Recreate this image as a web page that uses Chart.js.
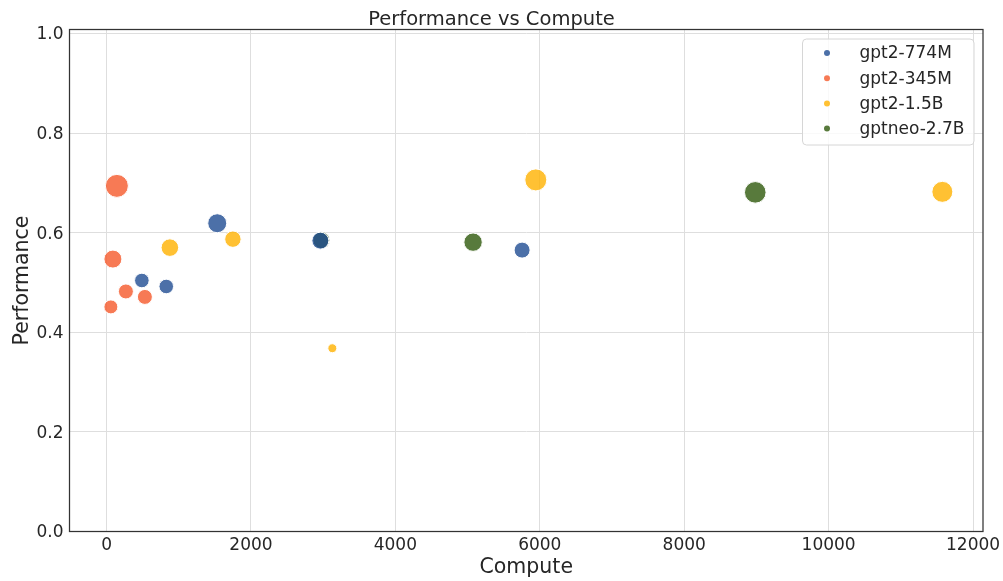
<!DOCTYPE html>
<html><head><meta charset="utf-8">
<script src="https://cdn.jsdelivr.net/npm/chart.js@4.4.0/dist/chart.umd.min.js"></script>
<style>html,body{margin:0;padding:0;background:#fff;}#wrap{width:1003px;height:581px;}</style>
</head><body><div id="wrap"><canvas id="c" width="1003" height="581"></canvas></div>
<script>
const seriesNames = ['gpt2-774M', 'gpt2-345M', 'gpt2-1.5B', 'gptneo-2.7B'];
const compute774M = [1533, 489, 827, 2961, 5755];
const perf774M    = [0.619, 0.504, 0.492, 0.584, 0.565];
const size774M    = [9.5, 7.3, 7.3, 8.5, 8];
const compute345M = [143, 88, 268, 531, 60];
const perf345M    = [0.694, 0.547, 0.482, 0.471, 0.451];
const size345M    = [11.5, 9, 7.5, 7.5, 7];
const compute15B  = [877, 1750, 3127, 5945, 11575];
const perf15B     = [0.570, 0.587, 0.368, 0.706, 0.682];
const size15B     = [8.8, 8.2, 4.5, 11, 10.5];
const computeNeo  = [2975, 5076, 8984];
const perfNeo     = [0.585, 0.581, 0.681];
const sizeNeo     = [8.5, 9.2, 10.8];
const xTicks = [0, 2000, 4000, 6000, 8000, 10000, 12000];
const yTicks = [0.0, 0.2, 0.4, 0.6, 0.8, 1.0];

const colors = ['rgba(31,76,146,0.8)', 'rgba(245,89,42,0.8)', 'rgba(255,178,0,0.8)', 'rgba(46,89,11,0.8)'];
const TEXT = '#262626';
Chart.defaults.font.family = 'DejaVu Sans';
Chart.defaults.color = TEXT;

function pts(xs, ys, rs) { return xs.map((x, i) => ({x: x, y: ys[i], r: rs[i]})); }
const allData = [
  pts(compute774M, perf774M, size774M),
  pts(compute345M, perf345M, size345M),
  pts(compute15B, perf15B, size15B),
  pts(computeNeo, perfNeo, sizeNeo)
];

const framePlugin = {
  id: 'frame',
  afterDraw(chart) {
    const ctx = chart.ctx, a = chart.chartArea;
    ctx.save();
    ctx.strokeStyle = '#333';
    ctx.lineWidth = 1.25;
    ctx.strokeRect(a.left, a.top, a.right - a.left, a.bottom - a.top);
    // legend
    const lx = a.right - 180.5, ly = a.top + 9.5, lw = 171.5, lh = 106;
    ctx.beginPath();
    if (ctx.roundRect) ctx.roundRect(lx, ly, lw, lh, 4); else ctx.rect(lx, ly, lw, lh);
    ctx.fillStyle = 'rgba(255,255,255,0.8)';
    ctx.fill();
    ctx.strokeStyle = '#d6d6d6';
    ctx.lineWidth = 1;
    ctx.stroke();
    ctx.font = '17px "DejaVu Sans"';
    ctx.textBaseline = 'middle';
    ctx.textAlign = 'left';
    chart.data.datasets.forEach((ds, i) => {
      const cy = ly + 14 + i * 25.2;
      ctx.beginPath();
      ctx.arc(lx + 24.5, cy, 3, 0, Math.PI * 2);
      ctx.fillStyle = ds.backgroundColor;
      ctx.fill();
      ctx.fillStyle = TEXT;
      ctx.fillText(ds.label, lx + 57, cy + 1);
    });
    ctx.restore();
  }
};

new Chart(document.getElementById('c'), {
  type: 'bubble',
  data: {
    datasets: seriesNames.map((n, i) => ({
      label: n,
      data: allData[i],
      backgroundColor: colors[i],
      borderColor: '#ffffff',
      borderWidth: 1,
      hoverBorderWidth: 1
    }))
  },
  options: {
    responsive: false,
    animation: false,
    events: [],
    layout: {padding: {left: 0, right: 20, top: 0, bottom: 0}},
    plugins: {
      legend: {display: false},
      tooltip: {enabled: false},
      title: {
        display: true,
        text: 'Performance vs Compute',
        color: TEXT,
        font: {size: 19.5, weight: 'normal', lineHeight: 1},
        padding: {top: 10, bottom: 0}
      }
    },
    scales: {
      x: {
        type: 'linear',
        min: -513,
        max: 12138,
        afterBuildTicks: s => { s.ticks = xTicks.map(v => ({value: v})); },
        afterFit: s => { s.height = 49.5; s.paddingLeft = 0; s.paddingRight = 0; },
        ticks: {font: {size: 17}, color: TEXT, padding: 4, maxRotation: 0, callback: v => String(v)},
        grid: {color: '#dedede', lineWidth: 1, drawTicks: false},
        border: {display: false},
        title: {display: true, text: 'Compute', color: TEXT, font: {size: 20.5}, padding: {top: 0, bottom: 1}}
      },
      y: {
        type: 'linear',
        min: 0,
        max: 1.008,
        afterBuildTicks: s => { s.ticks = yTicks.map(v => ({value: v})); },
        afterFit: s => { s.width = 69.5; s.paddingTop = 0; s.paddingBottom = 0; },
        ticks: {font: {size: 17}, color: TEXT, padding: 6, labelOffset: 1.5, callback: v => Number(v).toFixed(1)},
        grid: {color: '#dedede', lineWidth: 1, drawTicks: false},
        border: {display: false},
        title: {display: true, text: 'Performance', color: TEXT, font: {size: 20.5}, padding: {top: 10.5, bottom: 0}}
      }
    }
  },
  plugins: [framePlugin]
});
</script></body></html>
